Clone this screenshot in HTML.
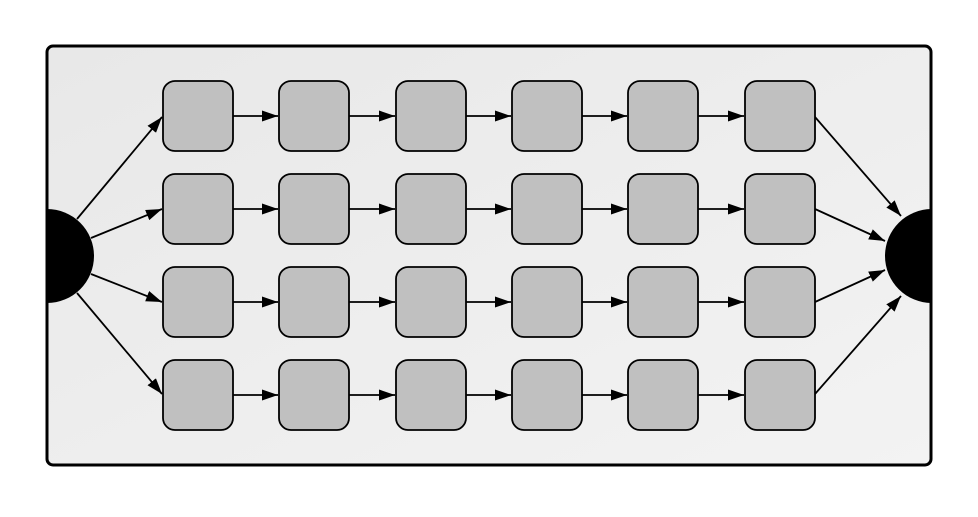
<!DOCTYPE html>
<html><head><style>html,body{margin:0;padding:0;background:#fff}</style></head><body>
<svg width="978" height="512" xmlns="http://www.w3.org/2000/svg">
<defs>
<linearGradient id="bg" x1="0" y1="0" x2="1" y2="1"><stop offset="0" stop-color="#e8e8e8"/><stop offset="1" stop-color="#f3f3f3"/></linearGradient>
<marker id="a" markerWidth="16" markerHeight="11" refX="16" refY="5.5" orient="auto" markerUnits="userSpaceOnUse"><path d="M0,0 L16,5.5 L0,11z" fill="#000"/></marker>
<clipPath id="c"><rect x="47" y="46" width="884" height="419" rx="6"/></clipPath>
</defs>
<rect x="47" y="46" width="884" height="419" rx="6" fill="url(#bg)" stroke="#000" stroke-width="3"/>
<g clip-path="url(#c)">
<circle cx="47" cy="256" r="47" fill="#000"/>
<circle cx="932" cy="256" r="47" fill="#000"/>
</g>
<g stroke="#000" stroke-width="1.8" fill="none" marker-end="url(#a)">
<line x1="77" y1="219" x2="162" y2="117"/>
<line x1="91" y1="238" x2="162" y2="209"/>
<line x1="91" y1="274" x2="162" y2="302"/>
<line x1="77" y1="293" x2="162" y2="394"/>
<line x1="815" y1="117" x2="901" y2="216"/>
<line x1="815" y1="209" x2="885" y2="241"/>
<line x1="815" y1="302" x2="885" y2="270"/>
<line x1="815" y1="394" x2="901" y2="296"/>
</g>
<g stroke="#000" stroke-width="1.8" fill="#c0c0c0">
<rect x="163" y="81" width="70" height="70" rx="12"/><rect x="279" y="81" width="70" height="70" rx="12"/><rect x="396" y="81" width="70" height="70" rx="12"/><rect x="512" y="81" width="70" height="70" rx="12"/><rect x="628" y="81" width="70" height="70" rx="12"/><rect x="745" y="81" width="70" height="70" rx="12"/>
<rect x="163" y="174" width="70" height="70" rx="12"/><rect x="279" y="174" width="70" height="70" rx="12"/><rect x="396" y="174" width="70" height="70" rx="12"/><rect x="512" y="174" width="70" height="70" rx="12"/><rect x="628" y="174" width="70" height="70" rx="12"/><rect x="745" y="174" width="70" height="70" rx="12"/>
<rect x="163" y="267" width="70" height="70" rx="12"/><rect x="279" y="267" width="70" height="70" rx="12"/><rect x="396" y="267" width="70" height="70" rx="12"/><rect x="512" y="267" width="70" height="70" rx="12"/><rect x="628" y="267" width="70" height="70" rx="12"/><rect x="745" y="267" width="70" height="70" rx="12"/>
<rect x="163" y="360" width="70" height="70" rx="12"/><rect x="279" y="360" width="70" height="70" rx="12"/><rect x="396" y="360" width="70" height="70" rx="12"/><rect x="512" y="360" width="70" height="70" rx="12"/><rect x="628" y="360" width="70" height="70" rx="12"/><rect x="745" y="360" width="70" height="70" rx="12"/>
</g>
<g stroke="#000" stroke-width="1.8" fill="none" marker-end="url(#a)">
<line x1="233" y1="116" x2="278" y2="116"/><line x1="349" y1="116" x2="395" y2="116"/><line x1="466" y1="116" x2="511" y2="116"/><line x1="582" y1="116" x2="627" y2="116"/><line x1="698" y1="116" x2="744" y2="116"/>
<line x1="233" y1="209" x2="278" y2="209"/><line x1="349" y1="209" x2="395" y2="209"/><line x1="466" y1="209" x2="511" y2="209"/><line x1="582" y1="209" x2="627" y2="209"/><line x1="698" y1="209" x2="744" y2="209"/>
<line x1="233" y1="302" x2="278" y2="302"/><line x1="349" y1="302" x2="395" y2="302"/><line x1="466" y1="302" x2="511" y2="302"/><line x1="582" y1="302" x2="627" y2="302"/><line x1="698" y1="302" x2="744" y2="302"/>
<line x1="233" y1="395" x2="278" y2="395"/><line x1="349" y1="395" x2="395" y2="395"/><line x1="466" y1="395" x2="511" y2="395"/><line x1="582" y1="395" x2="627" y2="395"/><line x1="698" y1="395" x2="744" y2="395"/>
</g>
</svg>
</body></html>
